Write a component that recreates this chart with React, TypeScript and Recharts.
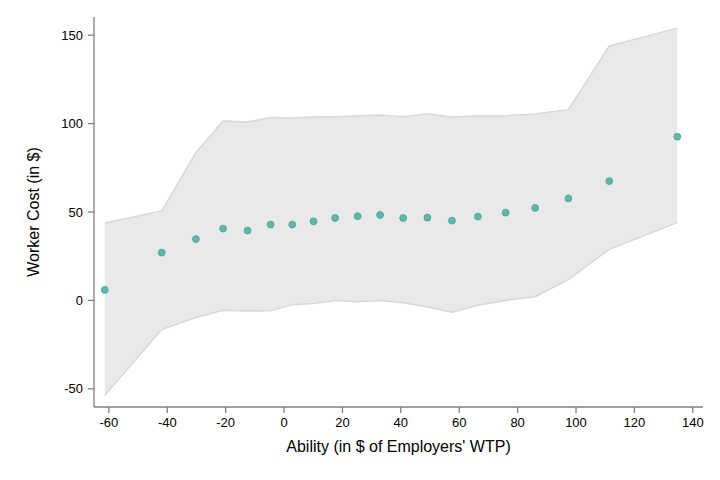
import React from 'react';
import { ComposedChart, Area, Scatter, XAxis, YAxis } from 'recharts';

const abilityX = [-61.4, -41.9, -30.2, -20.9, -12.5, -4.6, 2.8, 10.1, 17.5, 25.2, 32.9, 40.8, 49.1, 57.5, 66.4, 75.9, 86.0, 97.4, 111.4, 134.7];
const workerCost = [5.9, 27.0, 34.7, 40.6, 39.5, 42.9, 42.9, 44.7, 46.6, 47.6, 48.3, 46.6, 46.8, 45.1, 47.4, 49.6, 52.3, 57.7, 67.5, 92.6];
const bandLow = [-53.7, -16.5, -9.7, -5.6, -6.0, -5.8, -2.4, -1.8, -0.1, -0.7, 0.0, -1.3, -3.7, -6.7, -2.8, 0.0, 2.1, 11.8, 28.9, 44.0];
const bandHigh = [43.8, 50.6, 83.6, 101.5, 100.9, 103.5, 103.2, 103.7, 103.9, 104.3, 104.8, 103.9, 105.6, 103.7, 104.3, 104.5, 105.4, 107.9, 143.9, 154.0];
const xTicks = [-60, -40, -20, 0, 20, 40, 60, 80, 100, 120, 140];
const yTicks = [-50, 0, 50, 100, 150];

const data = abilityX.map((x, i) => ({
  x,
  y: workerCost[i],
  band: [bandLow[i], bandHigh[i]],
}));

const FONT = '"Liberation Sans", Arial, Helvetica, sans-serif';
const AXIS = '#808080';

const Dot = (props: any) => {
  const { cx, cy } = props;
  if (cx == null || cy == null) return null;
  return <circle cx={cx} cy={cy} r={3.4} fill="#62b6ac" stroke="#50a89d" strokeWidth={1} />;
};

export default function App() {
  return (
    <div style={{ width: 712, height: 472, fontFamily: FONT }}>
      <ComposedChart
        width={712}
        height={472}
        data={data}
        margin={{ top: 9, right: 17, bottom: 0, left: 0 }}
      >
        <XAxis
          dataKey="x"
          type="number"
          domain={[-65.1, 143.5]}
          ticks={xTicks}
          allowDataOverflow
          interval={0}
          stroke={AXIS}
          strokeWidth={1.3}
          tickSize={6}
          tickMargin={5}
          height={73}
          tick={{ fill: '#000', fontSize: 13, fontFamily: FONT }}
          tickLine={{ stroke: AXIS }}
          label={{ value: "Ability (in $ of Employers' WTP)", position: 'insideTop', offset: 34, fill: '#000', fontSize: 16, fontFamily: FONT }}
        />
        <YAxis
          type="number"
          domain={[-60.3, 160.3]}
          ticks={yTicks}
          allowDataOverflow
          interval={0}
          stroke={AXIS}
          strokeWidth={1.3}
          tickSize={6}
          tickMargin={5}
          width={86}
          tick={{ fill: '#000', fontSize: 13, fontFamily: FONT }}
          tickLine={{ stroke: AXIS }}
          label={{ value: 'Worker Cost (in $)', angle: -90, position: 'center', dx: -18, fill: '#000', fontSize: 16, fontFamily: FONT }}
        />
        <Area
          dataKey="band"
          type="linear"
          fill="#e9e9e9"
          fillOpacity={1}
          stroke="#d8d8d8"
          strokeWidth={1.5}
          isAnimationActive={false}
          dot={false}
          activeDot={false}
        />
        <Scatter dataKey="y" shape={<Dot />} isAnimationActive={false} />
      </ComposedChart>
    </div>
  );
}
